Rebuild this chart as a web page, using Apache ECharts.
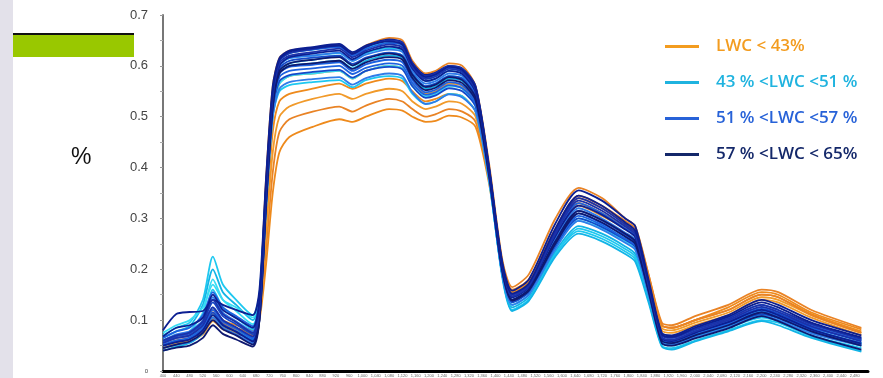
<!DOCTYPE html>
<html><head><meta charset="utf-8">
<script src="https://cdn.jsdelivr.net/npm/echarts@6/dist/echarts.min.js"></script>
<style>html,body{margin:0;padding:0;background:#fff}#c{width:883px;height:378px}</style>
</head><body><div id="c"></div>
<script>
// wavelengths (nm) at which reflectance values were read
const wavelengths = [400,440,480,520,550,580,620,670,690,710,730,750,780,850,930,970,1010,1080,1120,1150,1190,1220,1260,1300,1340,1380,1420,1450,1500,1580,1650,1720,1790,1820,1860,1900,1930,2000,2100,2200,2250,2350,2500];

const groupNames = ['LWC < 43%','43 % <LWC <51 %','51 % <LWC <57 %','57 % <LWC < 65%'];

// LWC < 43%
const orangeCurves = [
 [0.05,0.058,0.062,0.078,0.105,0.088,0.078,0.07,0.10,0.21,0.35,0.43,0.46,0.48,0.495,0.49,0.50,0.515,0.512,0.50,0.49,0.492,0.502,0.498,0.48,0.37,0.21,0.155,0.175,0.27,0.33,0.31,0.285,0.27,0.185,0.09,0.085,0.1,0.125,0.155,0.15,0.115,0.082],
 [0.055,0.065,0.07,0.085,0.115,0.095,0.085,0.075,0.11,0.24,0.39,0.47,0.495,0.51,0.52,0.51,0.522,0.535,0.53,0.515,0.5,0.505,0.515,0.51,0.49,0.38,0.215,0.16,0.18,0.28,0.345,0.325,0.295,0.28,0.19,0.095,0.09,0.108,0.13,0.16,0.155,0.12,0.085],
 [0.045,0.055,0.06,0.075,0.1,0.085,0.075,0.065,0.11,0.27,0.43,0.5,0.52,0.535,0.545,0.535,0.545,0.555,0.55,0.53,0.515,0.52,0.53,0.525,0.5,0.38,0.205,0.15,0.17,0.265,0.325,0.305,0.28,0.265,0.18,0.085,0.08,0.095,0.115,0.145,0.14,0.11,0.075],
 [0.06,0.07,0.075,0.09,0.12,0.1,0.09,0.08,0.12,0.3,0.47,0.53,0.545,0.555,0.565,0.555,0.565,0.575,0.57,0.55,0.53,0.535,0.545,0.54,0.51,0.385,0.21,0.155,0.178,0.275,0.34,0.32,0.29,0.275,0.185,0.09,0.085,0.1,0.12,0.15,0.145,0.112,0.078],
 [0.05,0.06,0.065,0.082,0.11,0.092,0.082,0.072,0.14,0.38,0.56,0.615,0.63,0.635,0.64,0.625,0.64,0.655,0.65,0.61,0.585,0.59,0.605,0.6,0.56,0.41,0.22,0.165,0.19,0.3,0.36,0.34,0.3,0.285,0.19,0.09,0.085,0.1,0.12,0.15,0.145,0.11,0.075],
 [0.045,0.052,0.058,0.072,0.098,0.082,0.074,0.066,0.12,0.33,0.5,0.565,0.58,0.585,0.59,0.575,0.59,0.6,0.595,0.565,0.545,0.55,0.565,0.56,0.525,0.39,0.2,0.15,0.172,0.27,0.33,0.31,0.28,0.265,0.175,0.08,0.075,0.09,0.11,0.14,0.135,0.105,0.07]
];
// 43 % < LWC < 51 %
const cyanCurves = [
 [0.07,0.085,0.095,0.14,0.225,0.17,0.14,0.11,0.15,0.36,0.54,0.6,0.615,0.62,0.625,0.61,0.625,0.635,0.63,0.595,0.57,0.575,0.59,0.585,0.55,0.39,0.19,0.12,0.14,0.23,0.275,0.26,0.235,0.22,0.14,0.055,0.05,0.065,0.085,0.105,0.098,0.07,0.045],
 [0.065,0.078,0.088,0.13,0.2,0.155,0.13,0.1,0.14,0.35,0.53,0.585,0.6,0.605,0.61,0.595,0.61,0.62,0.615,0.58,0.555,0.56,0.575,0.57,0.535,0.385,0.19,0.125,0.145,0.235,0.285,0.27,0.245,0.23,0.145,0.06,0.055,0.068,0.088,0.11,0.1,0.075,0.05],
 [0.06,0.07,0.078,0.115,0.18,0.14,0.118,0.092,0.13,0.33,0.51,0.565,0.58,0.585,0.59,0.575,0.59,0.6,0.595,0.56,0.54,0.545,0.56,0.555,0.52,0.38,0.19,0.13,0.15,0.245,0.295,0.28,0.255,0.24,0.15,0.06,0.055,0.07,0.09,0.115,0.105,0.08,0.055],
 [0.05,0.058,0.065,0.095,0.16,0.125,0.105,0.082,0.12,0.32,0.5,0.55,0.562,0.568,0.572,0.558,0.572,0.58,0.575,0.545,0.525,0.53,0.545,0.54,0.51,0.375,0.19,0.12,0.14,0.23,0.28,0.265,0.24,0.225,0.14,0.05,0.045,0.06,0.08,0.1,0.095,0.068,0.04],
 [0.04,0.048,0.055,0.075,0.11,0.09,0.078,0.062,0.12,0.34,0.53,0.59,0.605,0.612,0.618,0.6,0.615,0.625,0.62,0.585,0.56,0.565,0.58,0.575,0.54,0.385,0.185,0.118,0.138,0.225,0.27,0.255,0.23,0.215,0.135,0.048,0.042,0.058,0.078,0.098,0.09,0.065,0.038],
 [0.075,0.09,0.1,0.125,0.17,0.14,0.125,0.105,0.15,0.36,0.55,0.61,0.625,0.632,0.638,0.62,0.635,0.645,0.64,0.6,0.575,0.58,0.595,0.59,0.555,0.395,0.2,0.13,0.15,0.25,0.3,0.285,0.26,0.245,0.155,0.062,0.058,0.072,0.092,0.118,0.11,0.082,0.055]
];
// 51 % < LWC < 57 %
const blueCurves = [
 [0.055,0.065,0.07,0.09,0.125,0.1,0.085,0.065,0.12,0.34,0.52,0.585,0.598,0.602,0.607,0.59,0.603,0.612,0.607,0.572,0.548,0.553,0.568,0.562,0.53,0.39,0.2,0.14,0.16,0.25,0.31,0.29,0.265,0.25,0.16,0.065,0.06,0.075,0.095,0.12,0.11,0.085,0.06],
 [0.06,0.072,0.078,0.1,0.145,0.115,0.098,0.078,0.13,0.35,0.535,0.6,0.615,0.62,0.626,0.61,0.622,0.632,0.627,0.59,0.565,0.57,0.585,0.58,0.545,0.395,0.205,0.145,0.165,0.26,0.32,0.3,0.272,0.258,0.165,0.07,0.065,0.08,0.1,0.125,0.116,0.09,0.062],
 [0.05,0.058,0.063,0.082,0.115,0.092,0.078,0.06,0.11,0.33,0.51,0.57,0.582,0.588,0.592,0.577,0.59,0.598,0.593,0.56,0.537,0.542,0.556,0.55,0.52,0.385,0.195,0.135,0.155,0.245,0.3,0.283,0.258,0.244,0.155,0.06,0.055,0.07,0.09,0.112,0.104,0.078,0.052],
 [0.065,0.078,0.085,0.11,0.155,0.125,0.108,0.088,0.14,0.36,0.545,0.61,0.625,0.632,0.637,0.62,0.633,0.645,0.64,0.6,0.576,0.582,0.596,0.59,0.555,0.4,0.21,0.15,0.17,0.27,0.33,0.31,0.28,0.265,0.17,0.072,0.067,0.083,0.105,0.13,0.12,0.092,0.065],
 [0.045,0.052,0.057,0.075,0.105,0.085,0.072,0.055,0.1,0.32,0.5,0.555,0.568,0.574,0.578,0.563,0.576,0.585,0.58,0.548,0.525,0.53,0.544,0.538,0.51,0.38,0.19,0.13,0.15,0.24,0.295,0.278,0.252,0.238,0.15,0.057,0.052,0.066,0.086,0.108,0.1,0.074,0.05],
 [0.058,0.068,0.074,0.095,0.135,0.108,0.092,0.072,0.125,0.35,0.53,0.595,0.61,0.616,0.62,0.604,0.616,0.626,0.62,0.584,0.56,0.565,0.58,0.575,0.54,0.39,0.2,0.14,0.16,0.255,0.315,0.296,0.268,0.254,0.16,0.066,0.061,0.077,0.097,0.122,0.113,0.087,0.06],
 [0.052,0.06,0.066,0.086,0.12,0.097,0.083,0.064,0.115,0.335,0.515,0.578,0.59,0.595,0.6,0.584,0.596,0.605,0.6,0.566,0.543,0.548,0.562,0.556,0.525,0.385,0.196,0.137,0.157,0.248,0.305,0.287,0.26,0.247,0.157,0.062,0.057,0.072,0.092,0.116,0.107,0.081,0.055]
];
// 57 % < LWC < 65 %
const navyCurves = [
 [0.08,0.112,0.116,0.118,0.14,0.13,0.12,0.11,0.16,0.38,0.56,0.615,0.63,0.637,0.643,0.627,0.64,0.652,0.646,0.606,0.582,0.587,0.6,0.595,0.56,0.405,0.215,0.158,0.18,0.29,0.355,0.335,0.3,0.285,0.18,0.075,0.07,0.088,0.11,0.14,0.13,0.1,0.07],
 [0.045,0.052,0.058,0.075,0.1,0.082,0.07,0.052,0.1,0.33,0.52,0.59,0.605,0.612,0.617,0.601,0.614,0.624,0.618,0.582,0.558,0.563,0.578,0.572,0.537,0.39,0.2,0.14,0.16,0.255,0.315,0.297,0.27,0.255,0.16,0.06,0.055,0.07,0.09,0.115,0.105,0.078,0.05],
 [0.06,0.07,0.076,0.098,0.14,0.112,0.096,0.075,0.13,0.36,0.545,0.61,0.625,0.633,0.64,0.623,0.637,0.65,0.645,0.604,0.58,0.585,0.6,0.594,0.558,0.4,0.21,0.15,0.17,0.275,0.34,0.32,0.288,0.272,0.172,0.07,0.065,0.082,0.103,0.13,0.12,0.092,0.063],
 [0.05,0.057,0.062,0.08,0.11,0.09,0.077,0.058,0.11,0.34,0.53,0.6,0.617,0.624,0.63,0.613,0.627,0.638,0.632,0.595,0.57,0.575,0.59,0.584,0.548,0.395,0.205,0.145,0.165,0.265,0.325,0.307,0.278,0.263,0.166,0.064,0.059,0.075,0.096,0.12,0.11,0.082,0.054],
 [0.04,0.046,0.05,0.065,0.09,0.073,0.062,0.048,0.1,0.33,0.52,0.585,0.6,0.605,0.61,0.594,0.607,0.617,0.612,0.576,0.552,0.557,0.572,0.566,0.532,0.388,0.198,0.138,0.158,0.25,0.31,0.292,0.264,0.25,0.157,0.055,0.05,0.064,0.084,0.108,0.098,0.07,0.042],
 [0.055,0.065,0.07,0.09,0.125,0.1,0.086,0.068,0.12,0.35,0.54,0.605,0.62,0.627,0.634,0.617,0.63,0.642,0.636,0.598,0.574,0.579,0.594,0.588,0.552,0.398,0.207,0.147,0.167,0.27,0.335,0.315,0.284,0.268,0.168,0.066,0.061,0.078,0.1,0.126,0.116,0.088,0.058],
 [0.068,0.085,0.09,0.105,0.15,0.12,0.104,0.085,0.14,0.37,0.55,0.612,0.628,0.635,0.64,0.624,0.638,0.648,0.642,0.602,0.578,0.583,0.598,0.592,0.556,0.4,0.21,0.152,0.172,0.28,0.345,0.325,0.292,0.276,0.175,0.072,0.067,0.085,0.107,0.135,0.125,0.095,0.066]
];

const yTicks = [0,0.1,0.2,0.3,0.4,0.5,0.6,0.7];

const groupCurves = [orangeCurves, cyanCurves, blueCurves, navyCurves];
const groupPalettes = [
  ['#ee8a1c','#e98325','#f19a2a'],
  ['#1ec8f0','#12b4e6','#38dcf4'],
  ['#1d62e0','#2f7ce9','#1549c9'],
  ['#0c1f92','#0f1970','#1b32aa']
];
const legendColors = ['#f39c1f','#1fb3df','#2762d8','#14286a'];

const series = [];
groupCurves.forEach((curves, g) => {
  curves.forEach((vals, i) => {
    series.push({
      name: groupNames[g], type: 'line', symbol: 'none', smooth: 0.25,
      lineStyle: {width: 1.8, color: groupPalettes[g][i % groupPalettes[g].length]},
      itemStyle: {color: legendColors[g]},
      data: wavelengths.map((w, k) => [w, vals[k]])
    });
  });
});

const chart = echarts.init(document.getElementById('c'), null, {renderer: 'canvas'});
chart.setOption({
  animation: false,
  backgroundColor: '#ffffff',
  grid: {left: 163, right: 15, top: 15, bottom: 7, containLabel: false},
  graphic: [
    {type: 'rect', shape: {x: 0, y: 0, width: 13, height: 378}, style: {fill: '#e3e1ea'}},
    {type: 'rect', shape: {x: 13, y: 33, width: 121, height: 2}, style: {fill: '#111'}},
    {type: 'rect', shape: {x: 13, y: 35, width: 121, height: 22}, style: {fill: '#99c800'}},
    {type: 'text', left: 71, top: 146, style: {text: '%', font: '23px "Liberation Sans", Arial, sans-serif', fill: '#111'}}
  ],
  legend: {
    orient: 'vertical', left: 660, top: 33, itemWidth: 34, itemHeight: 3, itemGap: 19,
    icon: 'rect', selectedMode: false,
    data: groupNames.map((n, i) => ({name: n, itemStyle: {color: legendColors[i]},
      textStyle: {color: legendColors[i]}})),
    textStyle: {fontFamily: '"Open Sans", sans-serif', fontWeight: 600, fontSize: 17, padding: [0, 0, 0, 12]}
  },
  xAxis: {
    type: 'value', min: 400, max: 2520, interval: 40,
    axisLine: {show: true, onZero: false, lineStyle: {color: '#000', width: 3}},
    axisTick: {show: false}, splitLine: {show: false},
    axisLabel: {fontSize: 4, color: '#666', margin: 3, showMaxLabel: false, hideOverlap: false}
  },
  yAxis: {
    type: 'value', min: 0, max: 0.7, interval: 0.1,
    axisLine: {show: true, lineStyle: {color: '#777', width: 2}},
    axisTick: {show: true, length: 3, lineStyle: {color: '#999'}},
    minorTick: {show: true, splitNumber: 2, length: 3, lineStyle: {color: '#aaa'}},
    splitLine: {show: false},
    axisLabel: {
      margin: 15, color: '#444', fontSize: 13, fontFamily: '"Liberation Sans", Arial, sans-serif',
      formatter: v => { const t = yTicks.find(x => Math.abs(x - v) < 1e-6); return t === 0 ? '{s|0}' : (t !== undefined ? t.toFixed(1) : ''); },
      rich: {s: {fontSize: 6, color: '#444'}}
    }
  },
  series: series
});
</script></body></html>
